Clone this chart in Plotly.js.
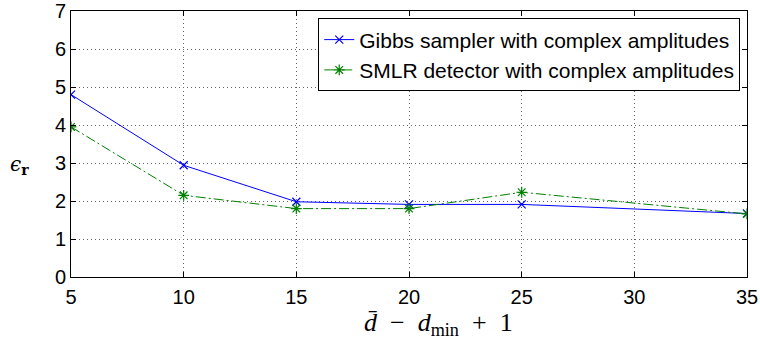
<!DOCTYPE html>
<html>
<head>
<meta charset="utf-8">
<script src="https://cdn.plot.ly/plotly-3.0.1.min.js"></script>
<style>html,body{margin:0;padding:0;background:#fff;}#chart{width:760px;height:343px;}</style>
</head>
<body>
<div id="chart"></div>
<script>
const xValues = [5, 10, 15, 20, 25, 35];
const gibbsValues = [4.80, 2.94, 1.98, 1.91, 1.91, 1.67];
const smlrValues = [3.95, 2.15, 1.80, 1.80, 2.23, 1.66];
const seriesNames = ["Gibbs sampler with complex amplitudes", "SMLR detector with complex amplitudes"];
const xTicks = [5, 10, 15, 20, 25, 30, 35];
const yTicks = [0, 1, 2, 3, 4, 5, 6, 7];

const tickFont = {family: "Liberation Sans, Arial, sans-serif", size: 20, color: "#000"};

const traces = [
  {
    x: xValues, y: gibbsValues, name: seriesNames[0], type: "scatter", mode: "lines+markers",
    line: {color: "rgb(0,0,255)", width: 1},
    marker: {symbol: "x-thin-open", size: 8, color: "rgb(0,0,255)", line: {color: "rgb(0,0,255)", width: 1.2}}
  },
  {
    x: xValues, y: smlrValues, name: seriesNames[1], type: "scatter", mode: "lines+markers",
    line: {color: "rgb(0,128,0)", width: 1, dash: "10px,3px,2px,3px"},
    marker: {symbol: "asterisk-open", size: 9, color: "rgb(0,128,0)", line: {color: "rgb(0,128,0)", width: 1.2}}
  }
];

const layout = {
  width: 760, height: 343,
  margin: {l: 71, r: 13, t: 11, b: 66},
  paper_bgcolor: "#fff", plot_bgcolor: "#fff",
  showlegend: true,
  legend: {
    x: 0.99, xanchor: "right", y: 0.972, yanchor: "top",
    bgcolor: "#fff", bordercolor: "#000", borderwidth: 1,
    font: {family: "Liberation Sans, Arial, sans-serif", size: 21, color: "#000"},
    tracegroupgap: 0
  },
  xaxis: {
    range: [5, 35], tickvals: xTicks, ticktext: xTicks.map(String),
    ticks: "inside", ticklen: 5, tickcolor: "#000", tickwidth: 1,
    showline: true, linecolor: "#000", linewidth: 1, mirror: "ticks",
    showgrid: true, gridcolor: "#666", griddash: "1px,3px", gridwidth: 1,
    zeroline: false, tickfont: tickFont, ticklabelstandoff: 2
  },
  yaxis: {
    range: [0, 7], tickvals: yTicks, ticktext: yTicks.map(String),
    ticks: "inside", ticklen: 5, tickcolor: "#000", tickwidth: 1,
    showline: true, linecolor: "#000", linewidth: 1, mirror: "ticks",
    showgrid: true, gridcolor: "#666", griddash: "1px,3px", gridwidth: 1,
    zeroline: false, tickfont: tickFont
  },
  annotations: [
    {
      xref: "paper", yref: "paper", x: -0.076, y: 0.42, xanchor: "center", yanchor: "middle",
      text: "<i>ϵ</i><sub><b>r</b></sub>", showarrow: false,
      font: {family: "DejaVu Serif, Liberation Serif, serif", size: 20, color: "#000"}
    },
    {
      xref: "paper", yref: "paper", x: 0.544, y: -0.178, xanchor: "center", yanchor: "middle",
      text: "<i>d̄</i>  −  <i>d</i><sub>min</sub>  +  1", showarrow: false,
      font: {family: "Liberation Serif, DejaVu Serif, serif", size: 26, color: "#000"}
    }
  ]
};

Plotly.newPlot("chart", traces, layout, {staticPlot: true, displayModeBar: false});
</script>
</body>
</html>
